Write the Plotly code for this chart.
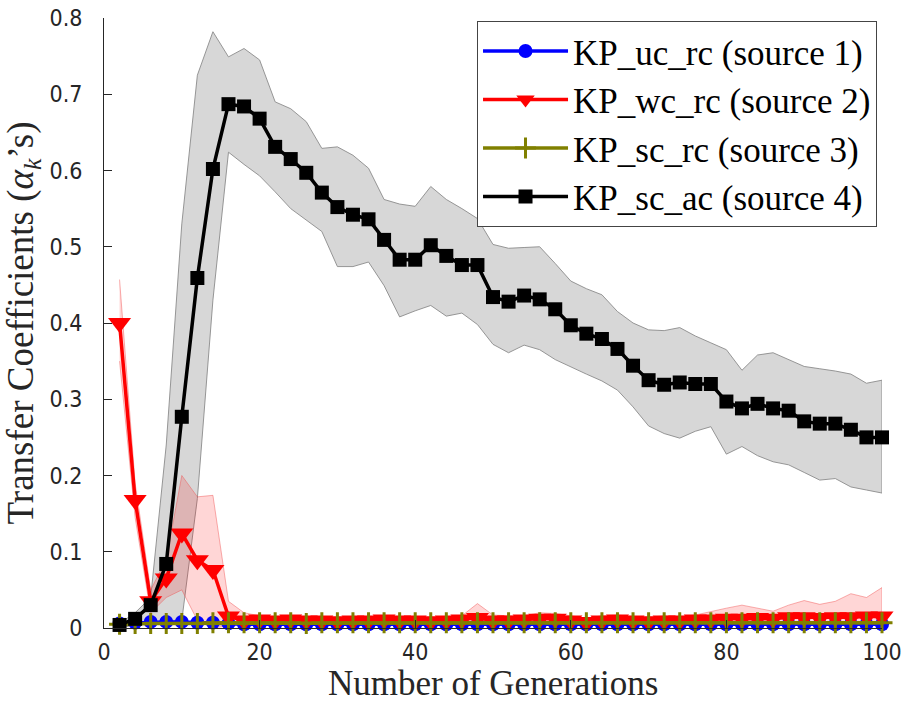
import plotly.graph_objects as go

# ---------------- data ----------------
generations = list(range(2, 101, 2))

# KP_sc_ac (source 4)
sc_ac_mean = [0.004, 0.012, 0.030, 0.084, 0.277, 0.459, 0.602, 0.687, 0.684, 0.668,
              0.631, 0.615, 0.597, 0.571, 0.552, 0.542, 0.536, 0.509, 0.483, 0.483,
              0.502, 0.488, 0.476, 0.476, 0.434, 0.428, 0.436, 0.431, 0.418, 0.397,
              0.386, 0.379, 0.366, 0.344, 0.325, 0.319, 0.322, 0.320, 0.320, 0.297,
              0.288, 0.294, 0.288, 0.285, 0.271, 0.268, 0.268, 0.260, 0.250, 0.250]
sc_ac_upper = [0.006, 0.020, 0.040, 0.240, 0.530, 0.725, 0.782, 0.749, 0.760, 0.745,
               0.690, 0.681, 0.664, 0.629, 0.631, 0.620, 0.603, 0.562, 0.556, 0.553,
               0.579, 0.562, 0.550, 0.537, 0.503, 0.498, 0.499, 0.500, 0.478, 0.455,
               0.445, 0.437, 0.415, 0.400, 0.391, 0.390, 0.394, 0.383, 0.374, 0.365,
               0.338, 0.358, 0.361, 0.352, 0.343, 0.340, 0.337, 0.333, 0.321, 0.325]
sc_ac_lower = [0.000, 0.004, 0.008, 0.010, 0.010, 0.170, 0.430, 0.624, 0.608, 0.593,
               0.572, 0.550, 0.535, 0.520, 0.474, 0.474, 0.480, 0.449, 0.408, 0.416,
               0.423, 0.409, 0.413, 0.398, 0.372, 0.361, 0.371, 0.365, 0.352, 0.343,
               0.333, 0.324, 0.312, 0.290, 0.265, 0.255, 0.249, 0.258, 0.264, 0.228,
               0.238, 0.226, 0.218, 0.214, 0.204, 0.194, 0.196, 0.185, 0.181, 0.177]

# KP_wc_rc (source 2)
wc_rc_mean = [0.400, 0.168, 0.035, 0.065, 0.124, 0.089, 0.076, 0.015, 0.010, 0.011,
              0.010, 0.011, 0.010, 0.010, 0.009, 0.010, 0.010, 0.011, 0.010, 0.010,
              0.009, 0.010, 0.011, 0.013, 0.010, 0.010, 0.011, 0.012, 0.012, 0.010,
              0.008, 0.010, 0.011, 0.010, 0.009, 0.010, 0.010, 0.011, 0.011, 0.012,
              0.012, 0.013, 0.012, 0.014, 0.014, 0.013, 0.014, 0.014, 0.015, 0.015]
wc_rc_upper = [0.457, 0.190, 0.050, 0.090, 0.200, 0.172, 0.174, 0.035, 0.020, 0.016,
               0.015, 0.016, 0.015, 0.014, 0.014, 0.015, 0.014, 0.016, 0.015, 0.014,
               0.014, 0.015, 0.016, 0.032, 0.017, 0.016, 0.016, 0.020, 0.019, 0.016,
               0.013, 0.016, 0.017, 0.015, 0.014, 0.016, 0.015, 0.017, 0.022, 0.026,
               0.030, 0.026, 0.022, 0.030, 0.036, 0.031, 0.035, 0.045, 0.040, 0.053]
wc_rc_lower = [0.350, 0.145, 0.020, 0.040, 0.050, 0.010, 0.000, 0.003, 0.005, 0.006,
               0.005, 0.006, 0.005, 0.006, 0.005, 0.005, 0.006, 0.006, 0.005, 0.005,
               0.005, 0.005, 0.006, 0.006, 0.005, 0.005, 0.006, 0.006, 0.006, 0.005,
               0.004, 0.005, 0.006, 0.005, 0.005, 0.005, 0.005, 0.006, 0.005, 0.005,
               0.005, 0.006, 0.005, 0.006, 0.006, 0.005, 0.006, 0.005, 0.006, 0.006]

# KP_uc_rc (source 1)
uc_rc_mean = [0.006, 0.007, 0.008, 0.008, 0.008, 0.007, 0.007, 0.006, 0.005, 0.005,
              0.005, 0.005, 0.005, 0.005, 0.005, 0.005, 0.005, 0.005, 0.005, 0.005,
              0.005, 0.005, 0.005, 0.005, 0.005, 0.005, 0.005, 0.005, 0.005, 0.005,
              0.005, 0.005, 0.005, 0.005, 0.005, 0.005, 0.005, 0.005, 0.005, 0.005,
              0.005, 0.005, 0.005, 0.005, 0.005, 0.005, 0.005, 0.005, 0.005, 0.005]

# KP_sc_rc (source 3)
sc_rc_mean = [0.005, 0.006, 0.006, 0.006, 0.006, 0.006, 0.007, 0.007, 0.007, 0.007,
              0.007, 0.007, 0.006, 0.007, 0.007, 0.007, 0.007, 0.007, 0.007, 0.007,
              0.007, 0.007, 0.007, 0.007, 0.007, 0.007, 0.007, 0.007, 0.007, 0.007,
              0.007, 0.007, 0.007, 0.007, 0.007, 0.007, 0.007, 0.007, 0.007, 0.007,
              0.007, 0.007, 0.007, 0.007, 0.007, 0.007, 0.007, 0.007, 0.007, 0.007]

series_names = ["KP_uc_rc (source 1)", "KP_wc_rc (source 2)",
                "KP_sc_rc (source 3)", "KP_sc_ac (source 4)"]
x_title = "Number of Generations"
y_title = "Transfer Coefficients (<i>α</i><sub><i>k</i></sub>’s)"
x_ticks = [0, 20, 40, 60, 80, 100]
y_ticks = [0, 0.1, 0.2, 0.3, 0.4, 0.5, 0.6, 0.7, 0.8]
y_tick_text = ["0", "0.1", "0.2", "0.3", "0.4", "0.5", "0.6", "0.7", "0.8"]

# ---------------- figure ----------------
fig = go.Figure()

def band(xs, up, lo, fill, edge):
    return go.Scatter(x=xs + xs[::-1], y=up + lo[::-1], fill="toself",
                      fillcolor=fill, line=dict(color=edge, width=1),
                      mode="lines", hoverinfo="skip", showlegend=False)

fig.add_trace(band(generations, sc_ac_upper, sc_ac_lower,
                   "rgba(205,205,205,0.8)", "rgba(140,140,140,0.9)"))
fig.add_trace(band(generations, wc_rc_upper, wc_rc_lower,
                   "rgba(255,0,0,0.16)", "rgba(240,80,80,0.45)"))

fig.add_trace(go.Scatter(x=generations, y=uc_rc_mean, name=series_names[0],
                         mode="lines+markers", legendrank=1, cliponaxis=False,
                         line=dict(color="#0000ff", width=3.5),
                         marker=dict(symbol="circle", size=14, color="#0000ff")))
fig.add_trace(go.Scatter(x=generations, y=wc_rc_mean, name=series_names[1],
                         mode="lines+markers", legendrank=2, cliponaxis=False,
                         line=dict(color="#ff0000", width=3.5),
                         marker=dict(symbol="triangle-down", size=20, color="#ff0000")))
fig.add_trace(go.Scatter(x=generations, y=sc_rc_mean, name=series_names[2],
                         mode="lines+markers", legendrank=3, cliponaxis=False,
                         line=dict(color="#808000", width=3.5),
                         marker=dict(symbol="cross-thin", size=15, color="#808000",
                                     line=dict(color="#808000", width=3))))
fig.add_trace(go.Scatter(x=generations, y=sc_ac_mean, name=series_names[3],
                         mode="lines+markers", legendrank=4, cliponaxis=False,
                         line=dict(color="#000000", width=3.5),
                         marker=dict(symbol="square", size=14, color="#000000")))

axis_color = "#262626"
tick_font = dict(family="DejaVu Sans Condensed, Liberation Sans Narrow, Liberation Sans",
                 size=23, color=axis_color)
title_font = dict(family="Liberation Serif, Times New Roman, serif", size=37,
                  color=axis_color)
x_title_font = dict(family="Liberation Serif, Times New Roman, serif", size=35,
                    color=axis_color)

fig.update_layout(
    width=902, height=705,
    margin=dict(l=104, r=20, t=18, b=77, autoexpand=False),
    paper_bgcolor="white", plot_bgcolor="white",
    showlegend=True,
    legend=dict(x=0.9936, xanchor="right", y=0.9956, yanchor="top",
                bgcolor="white", bordercolor="#444444", borderwidth=1,
                font=dict(family="Liberation Serif, Times New Roman, serif",
                          size=35, color="#000000"),
                itemwidth=85, tracegroupgap=0),
    xaxis=dict(range=[0, 100], tickvals=x_ticks, ticks="inside", ticklen=8,
               tickcolor=axis_color, showline=True, linecolor=axis_color,
               linewidth=1, showgrid=False, zeroline=False, tickfont=tick_font,
               ticklabelstandoff=3, ticklabeloverflow="allow", automargin=False),
    yaxis=dict(range=[0, 0.8], tickvals=y_ticks, ticktext=y_tick_text,
               ticks="inside", ticklen=8, tickcolor=axis_color, showline=True,
               linecolor=axis_color, linewidth=1, showgrid=False,
               zeroline=False, tickfont=tick_font, ticklabelstandoff=16,
               ticklabeloverflow="allow", automargin=False,
               title=dict(text=y_title, font=title_font, standoff=6)),
    annotations=[dict(text=x_title, xref="paper", yref="paper", x=0.5,
                      y=-0.1246, xanchor="center", yanchor="bottom",
                      showarrow=False, font=x_title_font, borderpad=0)],
)

fig.write_html("out.html")
